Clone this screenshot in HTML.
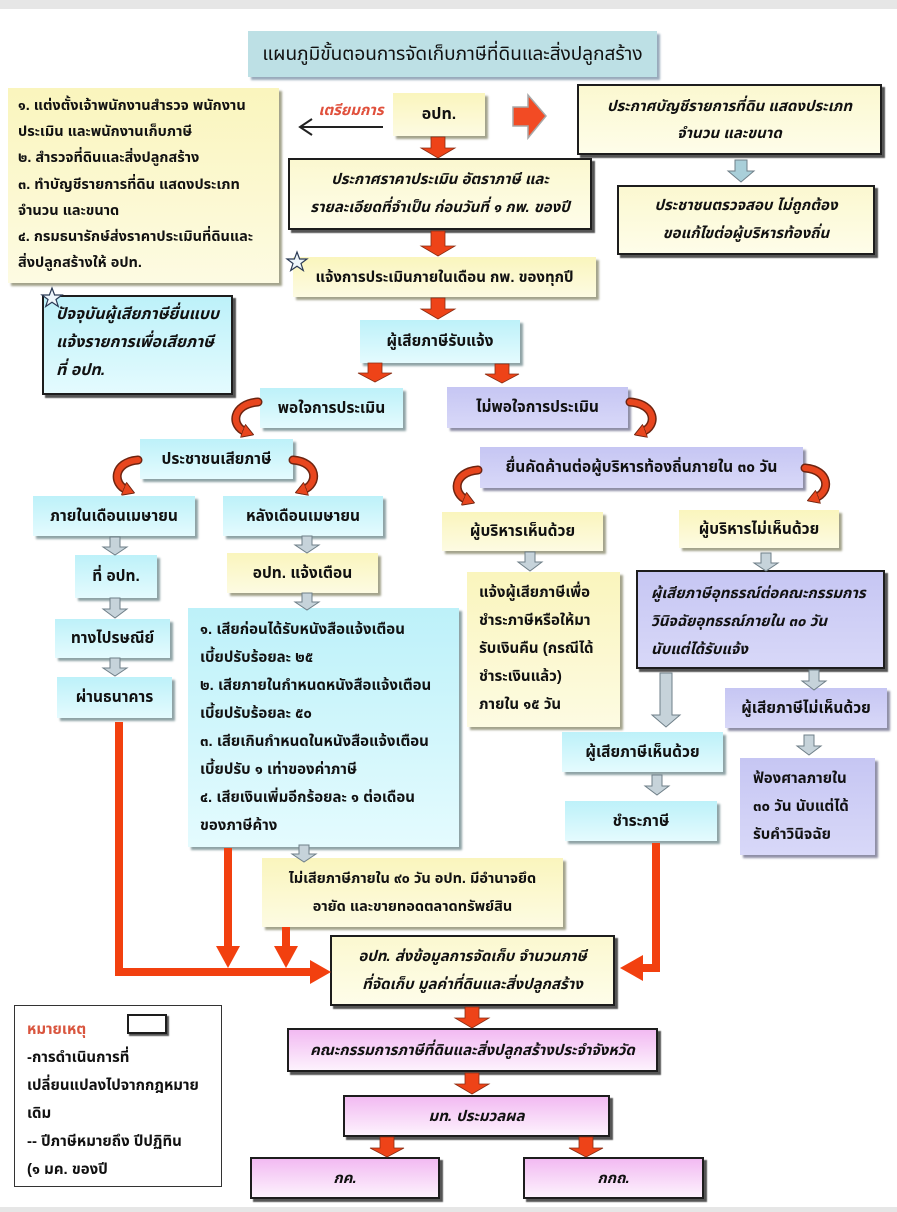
<!DOCTYPE html>
<html><head><meta charset="utf-8">
<style>
*{margin:0;padding:0;box-sizing:border-box}
html,body{width:897px;height:1212px;background:#fff;overflow:hidden;position:relative;font-family:"Liberation Sans","DejaVu Sans","Noto Sans Thai","Tahoma","WenQuanYi Zen Hei",sans-serif;color:#111}
.bar{position:absolute;left:0;width:897px;background:#e6e6e6}
.bx{position:absolute;display:flex;align-items:center;justify-content:center;text-align:center;font-size:15px;font-weight:bold;white-space:nowrap;line-height:27px}
.c{background:linear-gradient(#bdf1f9,#e4fbfe);box-shadow:3px 3px 2px #8fa3a6}
.y{background:linear-gradient(#faf5bd,#fdfbe2);box-shadow:3px 3px 2px #a3a38c}
.l{background:linear-gradient(#c6c6f3,#d8d8f8);box-shadow:3px 3px 2px #8f8fa6}
.p{background:linear-gradient(#f2baf2,#fdf2fd);border:2px solid #1d1d1d;box-shadow:3px 3px 1px #555}
.k{border:2px solid #1d1d1d;box-shadow:3px 3px 1px #555}
.ky{background:linear-gradient(#fbf8d0,#fefde9)}
.i{font-style:italic}
.lt{justify-content:flex-start;text-align:left}
.blk{display:block}
svg{position:absolute;left:0;top:0}
</style></head><body>
<div class="bar" style="top:0;height:9px"></div>
<div class="bar" style="top:1207px;height:5px"></div>

<!-- title -->
<div class="bx" style="left:248px;top:31px;width:409px;height:46px;background:#bde0e5;box-shadow:3px 3px 2px #9ab;font-size:19px;font-weight:normal">แผนภูมิขั้นตอนการจัดเก็บภาษีที่ดินและสิ่งปลูกสร้าง</div>

<!-- left list -->
<div class="bx y lt" style="left:8px;top:88px;width:271px;height:195px;padding:5px 0 0 10px;align-items:flex-start;font-size:14.5px;line-height:26.2px"><div class="blk">๑. แต่งตั้งเจ้าพนักงานสำรวจ พนักงาน<br>ประเมิน และพนักงานเก็บภาษี<br>๒. สำรวจที่ดินและสิ่งปลูกสร้าง<br>๓. ทำบัญชีรายการที่ดิน แสดงประเภท<br>จำนวน และขนาด<br>๔. กรมธนารักษ์ส่งราคาประเมินที่ดินและ<br>สิ่งปลูกสร้างให้ อปท.</div></div>

<div class="bx i" style="left:316px;top:98px;width:70px;height:24px;color:#e0503c;font-size:15px">เตรียมการ</div>
<div class="bx y" style="left:393px;top:93px;width:92px;height:43px;font-size:16px">อปท.</div>

<div class="bx k ky i" style="left:577px;top:84px;width:305px;height:71px;font-size:15px;line-height:27px"><div>ประกาศบัญชีรายการที่ดิน แสดงประเภท<br>จำนวน และขนาด</div></div>
<div class="bx k ky i" style="left:617px;top:185px;width:258px;height:70px;font-size:15px;line-height:28px"><div>ประชาชนตรวจสอบ ไม่ถูกต้อง<br>ขอแก้ไขต่อผู้บริหารท้องถิ่น</div></div>

<div class="bx k ky i" style="left:288px;top:158px;width:304px;height:72px;font-size:15px;line-height:28px"><div>ประกาศราคาประเมิน อัตราภาษี และ<br>รายละเอียดที่จำเป็น ก่อนวันที่ ๑ กพ. ของปี</div></div>

<div class="bx y" style="left:293px;top:257px;width:303px;height:40px;font-size:15px">แจ้งการประเมินภายในเดือน กพ. ของทุกปี</div>

<div class="bx k c i lt" style="left:42px;top:295px;width:191px;height:100px;padding:4px 0 0 12px;align-items:flex-start;font-size:16px;line-height:28px;box-shadow:3px 3px 1px #555"><div class="blk">ปัจจุบันผู้เสียภาษียื่นแบบ<br>แจ้งรายการเพื่อเสียภาษี<br>ที่ อปท.</div></div>

<div class="bx c" style="left:360px;top:320px;width:160px;height:43px;font-size:15.5px">ผู้เสียภาษีรับแจ้ง</div>
<div class="bx c" style="left:260px;top:388px;width:143px;height:40px;font-size:15.5px">พอใจการประเมิน</div>
<div class="bx l" style="left:447px;top:387px;width:181px;height:41px;font-size:15.5px">ไม่พอใจการประเมิน</div>
<div class="bx c" style="left:140px;top:439px;width:153px;height:40px;font-size:15.5px">ประชาชนเสียภาษี</div>
<div class="bx l" style="left:480px;top:447px;width:323px;height:41px;font-size:15.5px">ยื่นคัดค้านต่อผู้บริหารท้องถิ่นภายใน ๓๐ วัน</div>

<div class="bx c" style="left:33px;top:496px;width:162px;height:40px;font-size:15.5px">ภายในเดือนเมษายน</div>
<div class="bx c" style="left:223px;top:496px;width:160px;height:40px;font-size:15.5px">หลังเดือนเมษายน</div>
<div class="bx y" style="left:442px;top:512px;width:161px;height:39px;font-size:15.5px">ผู้บริหารเห็นด้วย</div>
<div class="bx y" style="left:679px;top:510px;width:160px;height:38px;font-size:15.5px">ผู้บริหารไม่เห็นด้วย</div>

<div class="bx c" style="left:75px;top:555px;width:82px;height:43px;font-size:15.5px">ที่ อปท.</div>
<div class="bx y" style="left:227px;top:553px;width:151px;height:40px;font-size:15.5px">อปท. แจ้งเตือน</div>
<div class="bx c" style="left:55px;top:619px;width:115px;height:39px;font-size:15.5px">ทางไปรษณีย์</div>
<div class="bx c" style="left:57px;top:677px;width:115px;height:41px;font-size:15.5px">ผ่านธนาคาร</div>

<div class="bx c lt" style="left:188px;top:608px;width:271px;height:239px;padding:8px 0 0 12px;align-items:flex-start;font-size:15px;line-height:28px"><div class="blk">๑. เสียก่อนได้รับหนังสือแจ้งเตือน<br>เบี้ยปรับร้อยละ ๒๕<br>๒. เสียภายในกำหนดหนังสือแจ้งเตือน<br>เบี้ยปรับร้อยละ ๕๐<br>๓. เสียเกินกำหนดในหนังสือแจ้งเตือน<br>เบี้ยปรับ ๑ เท่าของค่าภาษี<br>๔. เสียเงินเพิ่มอีกร้อยละ ๑ ต่อเดือน<br>ของภาษีค้าง</div></div>

<div class="bx y lt" style="left:467px;top:572px;width:153px;height:155px;padding:7px 0 0 12px;align-items:flex-start;font-size:15px;line-height:28px"><div class="blk">แจ้งผู้เสียภาษีเพื่อ<br>ชำระภาษีหรือให้มา<br>รับเงินคืน (กรณีได้<br>ชำระเงินแล้ว)<br>ภายใน ๑๕ วัน</div></div>

<div class="bx k l i lt" style="left:636px;top:570px;width:249px;height:99px;padding:8px 0 0 13px;align-items:flex-start;font-size:15px;line-height:28px;box-shadow:3px 3px 1px #555"><div class="blk">ผู้เสียภาษีอุทธรณ์ต่อคณะกรรมการ<br>วินิจฉัยอุทธรณ์ภายใน ๓๐ วัน<br>นับแต่ได้รับแจ้ง</div></div>

<div class="bx c" style="left:562px;top:732px;width:161px;height:40px;font-size:15.5px">ผู้เสียภาษีเห็นด้วย</div>
<div class="bx c" style="left:565px;top:801px;width:152px;height:40px;font-size:15.5px">ชำระภาษี</div>
<div class="bx l" style="left:725px;top:688px;width:162px;height:40px;font-size:15.5px">ผู้เสียภาษีไม่เห็นด้วย</div>
<div class="bx l lt" style="left:740px;top:758px;width:135px;height:97px;padding:7px 0 0 13px;align-items:flex-start;font-size:15px;line-height:28px"><div class="blk">ฟ้องศาลภายใน<br>๓๐ วัน นับแต่ได้<br>รับคำวินิจฉัย</div></div>

<div class="bx y" style="left:262px;top:858px;width:301px;height:69px;font-size:14.5px;line-height:28px"><div>ไม่เสียภาษีภายใน ๙๐ วัน อปท. มีอำนาจยึด<br>อายัด และขายทอดตลาดทรัพย์สิน</div></div>

<div class="bx k ky i" style="left:330px;top:935px;width:285px;height:71px;font-size:15px;line-height:28px"><div>อปท. ส่งข้อมูลการจัดเก็บ จำนวนภาษี<br>ที่จัดเก็บ มูลค่าที่ดินและสิ่งปลูกสร้าง</div></div>

<div class="bx p i" style="left:287px;top:1028px;width:371px;height:44px;font-size:15px">คณะกรรมการภาษีที่ดินและสิ่งปลูกสร้างประจำจังหวัด</div>
<div class="bx p i" style="left:343px;top:1095px;width:267px;height:42px;font-size:15px">มท. ประมวลผล</div>
<div class="bx p i" style="left:250px;top:1157px;width:190px;height:42px;font-size:15px">กค.</div>
<div class="bx p i" style="left:523px;top:1157px;width:181px;height:42px;font-size:15px">กกถ.</div>

<!-- legend -->
<div class="bx lt" style="left:14px;top:1005px;width:208px;height:182px;border:1px solid #333;background:#fff;padding:10px 0 0 12px;align-items:flex-start;font-size:15px;line-height:28px"><div class="blk"><span style="color:#d9553e">หมายเหตุ</span><br>-การดำเนินการที่<br>เปลี่ยนแปลงไปจากกฎหมาย<br>เดิม<br>-- ปีภาษีหมายถึง ปีปฏิทิน<br>(๑ มค. ของปี</div></div>
<div style="position:absolute;left:127px;top:1014px;width:40px;height:20px;border:2px solid #1d1d1d;box-shadow:2px 2px 1px #555;background:#fff"></div>

<svg width="897" height="1212" viewBox="0 0 897 1212">
<defs>
<marker id="ah" viewBox="0 -6 10 12" refX="3" refY="0" markerWidth="12" markerHeight="14" markerUnits="userSpaceOnUse" orient="auto">
<path d="M0,-6 L10,0 L0,6 z" fill="#e8461e" stroke="#6e2410" stroke-width="0.8"/>
</marker>
</defs>

<!-- black left arrow -->
<line x1="300" y1="127" x2="383" y2="127" stroke="#222" stroke-width="2"/>
<polyline points="312,119 300,127 312,135" fill="none" stroke="#222" stroke-width="2"/>

<!-- red right arrow -->
<path d="M513,107 H528 V95 L546,116 L528,138 V126 H513 Z" fill="#f24b24" stroke="#a8a8a8" stroke-width="1.5"/>

<!-- red block down arrows -->
<g fill="#ee4318" stroke="#8a2c12" stroke-width="0.8">
<path d="M431,137 H445 V148 H455 L438,158 L421,148 H431 Z"/>
<path d="M431,231 H445 V246 H455 L438,256 L421,246 H431 Z"/>
<path d="M431,298 H445 V309 H455 L438,319 L421,309 H431 Z"/>
<path d="M368,363 H382 V373 H392 L375,382 L358,373 H368 Z"/>
<path d="M495,364 H509 V374 H519 L502,383 L485,374 H495 Z"/>
<path d="M465,1007 H479 V1018 H489 L472,1028 L455,1018 H465 Z"/>
<path d="M465,1073 H479 V1084 H489 L472,1094 L455,1084 H465 Z"/>
<path d="M380,1137 H394 V1148 H404 L387,1157 L370,1148 H380 Z"/>
<path d="M579,1137 H593 V1148 H603 L586,1157 L569,1148 H579 Z"/>
</g>

<!-- gray down arrows -->
<g fill="#c6d3da" stroke="#6f7f88" stroke-width="1">
<path d="M735,160 H747 V171 H754 L741,182 L728,171 H735 Z" fill="#a9cfd9"/>
<path d="M110,537 H120 V547 H127 L115,555 L103,547 H110 Z"/>
<path d="M302,536 H312 V545 H319 L307,553 L295,545 H302 Z"/>
<path d="M525,552 H535 V562 H542 L530,571 L518,562 H525 Z"/>
<path d="M761,553 H771 V563 H778 L766,571 L754,563 H761 Z"/>
<path d="M110,598 H120 V609 H127 L115,618 L103,609 H110 Z"/>
<path d="M302,593 H312 V602 H319 L307,610 L295,602 H302 Z"/>
<path d="M110,658 H120 V668 H127 L115,676 L103,668 H110 Z"/>
<path d="M809,670 H819 V681 H826 L814,690 L802,681 H809 Z"/>
<path d="M660,673 H672 V715 H680 L666,727 L652,715 H660 Z"/>
<path d="M652,775 H662 V786 H669 L657,795 L645,786 H652 Z"/>
<path d="M804,735 H814 V746 H821 L809,755 L797,746 H804 Z"/>
<path d="M299,845 H309 V854 H316 L304,862 L292,854 H299 Z"/>
</g>

<!-- curved arrows -->
<g fill="none" stroke-linecap="round">
<g stroke="#6e2410" stroke-width="9">
<path d="M258,402 C232,404 230,426 246,432"/>
<path d="M630,402 C656,404 658,426 642,432"/>
<path d="M138,460 C113,462 112,484 127,490"/>
<path d="M293,460 C318,462 319,484 303,490"/>
<path d="M478,470 C453,472 452,494 467,500"/>
<path d="M805,468 C830,470 831,492 815,498"/>
</g>
<g stroke="#e8461e" stroke-width="6" marker-end="url(#ah)">
<path d="M258,402 C232,404 230,426 246,432"/>
<path d="M630,402 C656,404 658,426 642,432"/>
<path d="M138,460 C113,462 112,484 127,490"/>
<path d="M293,460 C318,462 319,484 303,490"/>
<path d="M478,470 C453,472 452,494 467,500"/>
<path d="M805,468 C830,470 831,492 815,498"/>
</g>
</g>

<!-- red connectors -->
<g fill="none" stroke="#f2400f" stroke-width="8">
<polyline points="119,722 119,972 312,972"/>
<line x1="228" y1="848" x2="228" y2="948"/>
<line x1="286" y1="927" x2="286" y2="948"/>
<polyline points="656,843 656,968 641,968"/>
</g>
<g fill="#f2400f">
<polygon points="310,960 331,972 310,984"/>
<polygon points="216,946 240,946 228,968"/>
<polygon points="274,946 298,946 286,968"/>
<polygon points="643,955 643,981 620,968"/>
</g>

<!-- stars -->
<g fill="#eef6fb" stroke="#2a3a55" stroke-width="1.2">
<polygon points="297,252 299.6,259 307,259 301,263.5 303.3,270.5 297,266.2 290.7,270.5 293,263.5 287,259 294.4,259"/>
<polygon points="52,288 54.6,295 62,295 56,299.5 58.3,306.5 52,302.2 45.7,306.5 48,299.5 42,295 49.4,295"/>
</g>
</svg>
</body></html>
